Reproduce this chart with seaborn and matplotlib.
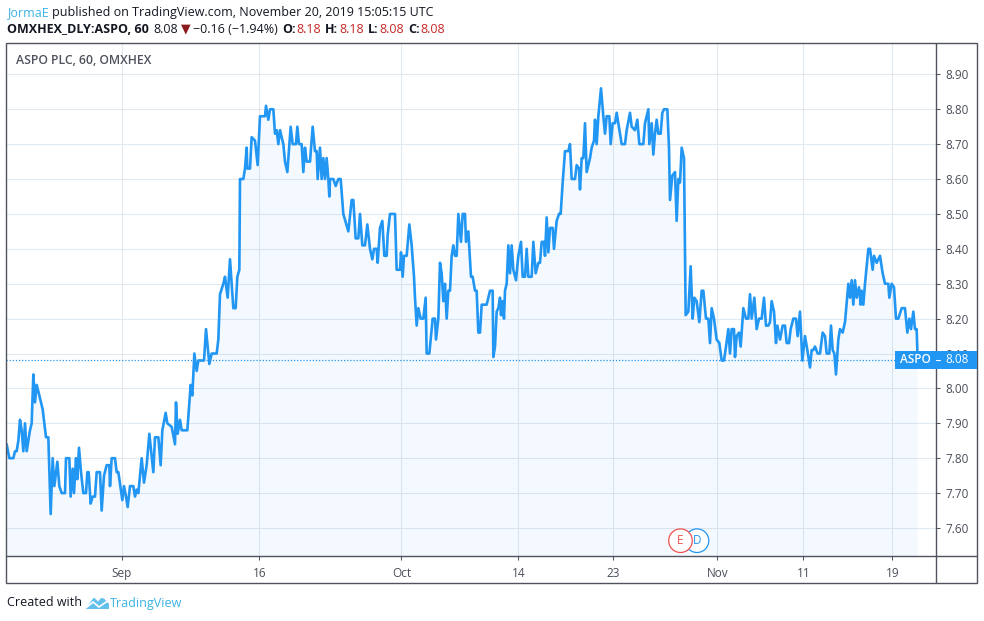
import numpy as np
import pandas as pd
import matplotlib
matplotlib.use("Agg")
import matplotlib.pyplot as plt
import seaborn as sns
from matplotlib.patches import Rectangle, Circle, Polygon
from matplotlib.lines import Line2D

# ---------------- data (hourly bars, time step index) ----------------
bar_t = [
    -1, 7, 19, 24, 29, 34, 39, 44, 49, 54, 59, 64, 69, 74, 79, 84, 89, 97, 107, 117,
    124, 131, 137, 142, 151, 157, 164, 174, 177, 187, 191, 197, 201, 207, 211, 216, 222, 229, 237, 241,
    245, 251, 257, 264, 269, 279, 284, 291, 299, 307, 309, 314, 324, 329, 334, 346, 351, 357, 362, 369,
    379, 384, 389, 394, 404, 411, 419, 427, 439, 444, 454, 461, 466, 476, 481, 494, 504, 507, 512, 519,
    524, 541, 551, 556, 562, 569, 574, 591, 597, 607, 614, 629, 634,
    639, 649, 654, 662, 669, 674, 679, 686, 691, 697, 699, 709, 714, 719, 721, 729, 734, 744, 752, 759,
    774, 777, 784, 789, 799, 804, 809, 814, 819, 829, 834, 841, 847, 851, 857, 867, 871, 876, 884, 889,
    894, 899, 909, 917, 924, 929, 932, 939, 944, 949, 954, 959, 964, 967, 969, 979, 986, 994, 1001, 1009,
    1024, 1034, 1039, 1046, 1054, 1059, 1066, 1074, 1081, 1089, 1096, 1101, 1109, 1112, 1119, 1126, 1132, 1139, 1142, 1149,
    1164,
    1169, 1179, 1182, 1187, 1191, 1199, 1207, 1214, 1221, 1224, 1229, 1234, 1241, 1249, 1256, 1259, 1267, 1277, 1284, 1287,
    1294, 1299, 1304, 1309, 1314, 1319, 1324, 1329, 1334, 1339, 1344, 1349, 1354, 1362, 1367, 1374, 1377, 1384, 1392, 1397,
    1404, 1409, 1414, 1419, 1424, 1439, 1449, 1457, 1459, 1464, 1469, 1474, 1479, 1482, 1487, 1491, 1494, 1499, 1504, 1509,
    1514, 1519, 1527, 1534, 1542, 1547, 1554, 1559, 1564, 1574, 1579, 1586, 1594, 1599, 1604, 1611, 1614, 1619, 1624, 1629,
    1637, 1641, 1649, 1656, 1661, 1667, 1674, 1684, 1689, 1694, 1704, 1709, 1716, 1719, 1724, 1729, 1734, 1739, 1749, 1754,
    1761, 1764, 1769, 1774, 1782, 1789, 1794, 1799, 1807, 1811, 1817, 1824, 1829, 1834, 1844, 1854, 1859, 1869, 1874, 1884,
    1891, 1897,
    1909, 1914, 1924, 1927, 1934, 1939, 1944, 1949, 1954, 1961, 1966, 1971, 1981, 1986, 1989, 1996, 2004, 2009, 2014, 2019,
    2024, 2031, 2036, 2044, 2051, 2057, 2062, 2069, 2077, 2084, 2089, 2097, 2104, 2109, 2114, 2121, 2129, 2137, 2144, 2151,
    2157, 2164, 2169, 2174, 2181, 2184, 2189, 2196, 2201, 2209, 2217, 2224, 2229, 2234, 2242, 2249, 2256, 2264, 2271, 2277,
    2284, 2289, 2294, 2301, 2307, 2311, 2319, 2327, 2334, 2339, 2346, 2351, 2359, 2367, 2372, 2379, 2386, 2394, 2401, 2409,
    2414, 2419, 2424, 2432, 2439, 2447, 2454, 2459, 2467, 2472, 2477, 2482, 2487, 2494, 2499, 2507, 2514, 2524, 2529, 2534,
    2539, 2544, 2549, 2556, 2561, 2564, 2569, 2574, 2584, 2589, 2597, 2601, 2609, 2619, 2627, 2634, 2644, 2647, 2654, 2661,
    2667, 2674, 2684, 2694, 2701, 2707, 2712, 2719, 2724, 2729, 2732,
]
close_price = [
    7.84, 7.80, 7.80, 7.82, 7.82, 7.85, 7.91, 7.88, 7.82, 7.90, 7.82, 7.85, 7.88, 7.90, 8.04, 7.96, 8.01, 7.98, 7.94, 7.86,
    7.86, 7.64, 7.80, 7.72, 7.79, 7.72, 7.70, 7.70, 7.80, 7.80, 7.69, 7.77, 7.70, 7.80, 7.74, 7.83, 7.76, 7.70, 7.70, 7.76,
    7.76, 7.67, 7.69, 7.69, 7.76, 7.76, 7.65, 7.75, 7.78, 7.78, 7.72, 7.80, 7.80, 7.76, 7.76, 7.68, 7.72, 7.69, 7.66, 7.72,
    7.72, 7.69, 7.71, 7.70, 7.80, 7.73, 7.78, 7.87, 7.76, 7.86, 7.86, 7.78, 7.88, 7.93, 7.90, 7.89, 7.84, 7.96, 7.87, 7.91,
    7.88, 7.88, 8.01, 7.98, 8.10, 8.05, 8.08, 8.08, 8.17, 8.07, 8.10, 8.10, 8.14,
    8.27, 8.30, 8.32, 8.26, 8.37, 8.30, 8.23, 8.23, 8.32, 8.34, 8.60, 8.60, 8.63, 8.69, 8.63, 8.63, 8.72, 8.71, 8.64, 8.78,
    8.78, 8.81, 8.77, 8.80, 8.80, 8.73, 8.74, 8.70, 8.74, 8.70, 8.65, 8.62, 8.70, 8.75, 8.70, 8.70, 8.75, 8.70, 8.70, 8.62,
    8.69, 8.65, 8.65, 8.75, 8.68, 8.68, 8.60, 8.69, 8.60, 8.66, 8.60, 8.66, 8.60, 8.55, 8.60, 8.60, 8.58, 8.60, 8.60, 8.50,
    8.45, 8.54, 8.54, 8.43, 8.43, 8.50, 8.41, 8.41, 8.47, 8.40, 8.37, 8.40, 8.40, 8.36, 8.46, 8.48, 8.38, 8.38, 8.44, 8.50,
    8.50,
    8.34, 8.34, 8.39, 8.32, 8.38, 8.38, 8.47, 8.41, 8.32, 8.26, 8.18, 8.23, 8.20, 8.20, 8.26, 8.10, 8.10, 8.20, 8.20, 8.14,
    8.20, 8.36, 8.33, 8.25, 8.30, 8.20, 8.28, 8.28, 8.38, 8.41, 8.38, 8.38, 8.50, 8.42, 8.50, 8.50, 8.42, 8.45, 8.32, 8.32,
    8.28, 8.28, 8.16, 8.16, 8.24, 8.24, 8.28, 8.28, 8.09, 8.12, 8.22, 8.23, 8.26, 8.21, 8.25, 8.20, 8.28, 8.30, 8.41, 8.33,
    8.41, 8.34, 8.31, 8.38, 8.42, 8.32, 8.32, 8.40, 8.32, 8.32, 8.42, 8.33, 8.36, 8.36, 8.42, 8.42, 8.38, 8.49, 8.39, 8.46,
    8.46, 8.40, 8.48, 8.50, 8.50, 8.59, 8.68, 8.68, 8.70, 8.60, 8.60, 8.64, 8.63, 8.57, 8.66, 8.66, 8.76, 8.62, 8.66, 8.69,
    8.71, 8.77, 8.70, 8.78, 8.86, 8.78, 8.73, 8.78, 8.78, 8.70, 8.76, 8.76, 8.79, 8.76, 8.70, 8.70, 8.74, 8.79, 8.75, 8.74,
    8.77, 8.70,
    8.70, 8.76, 8.80, 8.70, 8.76, 8.67, 8.73, 8.77, 8.73, 8.73, 8.79, 8.80, 8.80, 8.69, 8.54, 8.61, 8.62, 8.48, 8.60, 8.59,
    8.69, 8.66, 8.21, 8.22, 8.35, 8.20, 8.26, 8.25, 8.19, 8.28, 8.28, 8.20, 8.20, 8.13, 8.23, 8.20, 8.14, 8.13, 8.08, 8.08,
    8.12, 8.17, 8.10, 8.17, 8.17, 8.09, 8.15, 8.16, 8.12, 8.23, 8.20, 8.20, 8.27, 8.20, 8.26, 8.17, 8.20, 8.20, 8.26, 8.18,
    8.18, 8.19, 8.25, 8.22, 8.13, 8.18, 8.14, 8.18, 8.18, 8.13, 8.13, 8.17, 8.20, 8.20, 8.15, 8.22, 8.08, 8.15, 8.11, 8.06,
    8.11, 8.11, 8.12, 8.10, 8.10, 8.16, 8.15, 8.10, 8.10, 8.18, 8.11, 8.10, 8.04, 8.14, 8.17, 8.16, 8.19, 8.30, 8.26, 8.31,
    8.24, 8.31, 8.26, 8.29, 8.24, 8.28, 8.24, 8.30, 8.40, 8.40, 8.34, 8.38, 8.36, 8.38, 8.33, 8.30, 8.30, 8.26, 8.30, 8.29,
    8.20, 8.20, 8.23, 8.23, 8.16, 8.20, 8.17, 8.22, 8.17, 8.17, 8.08,
]
last_price = 8.08
tick_t = [344, 757, 1183, 1534, 1819, 2131, 2389, 2656]
tick_labels = ["Sep", "16", "Oct", "14", "23", "Nov", "11", "19"]
price_ticks = [7.60, 7.70, 7.80, 7.90, 8.00, 8.10, 8.20, 8.30, 8.40, 8.50, 8.60, 8.70, 8.80, 8.90]

# ---------------- style ----------------
W, H = 984, 621
LINE = "#2196f3"
FRAME = "#50535e"
GRID = "#e1e9f0"
TXT = "#4a4e58"
DARK = "#131722"
RED = "#c62828"
LIGHTBLUE = "#3bb3e4"

sns.set_theme(style="white")
plt.rcParams["font.family"] = ["Open Sans", "DejaVu Sans"]

fig = plt.figure(figsize=(W / 100, H / 100), dpi=100)
fig.patch.set_facecolor("white")


def fx(x):
    return x / W


def fy(y):
    return 1 - y / H


L, R, T, B = 6.3, 936.3, 43.3, 555.7
XB, RB = 583.3, 977.3
ax = fig.add_axes([fx(L), fy(B), (R - L) / W, (B - T) / H])
ax.set_facecolor("white")

df = pd.DataFrame({"t": bar_t, "price": close_price})
ax.fill_between(df["t"], df["price"], 7.0, color=LINE, alpha=0.05, lw=0, zorder=1)
sns.lineplot(data=df, x="t", y="price", ax=ax, color=LINE, lw=1.9,
             estimator=None, sort=False, zorder=3)
ax.axhline(last_price, color=LINE, lw=0.9, ls=(0, (1, 1.5)), zorder=2)

ax.set_xlim(-2.1, 2787.9)
ax.set_ylim(7.5206, 8.989)
ax.set_xticks(tick_t, tick_labels)
ax.set_yticks(price_ticks, [f"{v:.2f}" for v in price_ticks])
ax.yaxis.tick_right()
ax.tick_params(axis="x", length=2.9, width=0.75, color=FRAME, pad=5,
               labelsize=8.5, labelcolor=TXT, bottom=True)
ax.tick_params(axis="y", length=2.9, width=0.75, color=FRAME, pad=3.6,
               labelsize=8.5, labelcolor=TXT, right=True)
ax.grid(True, color=GRID, lw=0.75)
ax.set_axisbelow(True)
for s in ax.spines.values():
    s.set_visible(False)
ax.set_xlabel("")
ax.set_ylabel("")

# frame
fig.add_artist(Rectangle((fx(L), fy(XB)), (RB - L) / W, (XB - T) / H, fill=False,
                         ec=FRAME, lw=1.0, transform=fig.transFigure, zorder=5))
fig.add_artist(Line2D([fx(R), fx(R)], [fy(T), fy(XB)], color=FRAME, lw=1.0,
                      transform=fig.transFigure, zorder=5))
fig.add_artist(Line2D([fx(L), fx(RB)], [fy(B), fy(B)], color=FRAME, lw=1.0,
                      transform=fig.transFigure, zorder=5))

# last price labels
fig.add_artist(Rectangle((fx(895), fy(368.7)), (R - 895) / W, 18 / H, fc=LINE, ec="none",
                         transform=fig.transFigure, zorder=6))
fig.text(fx(915.2), fy(359.8), "ASPO", color="white", fontsize=8.5, fontweight="semibold",
         ha="center", va="center", zorder=7)
fig.add_artist(Rectangle((fx(R), fy(368.7)), (RB - R) / W, 18 / H, fc=LINE, ec="none",
                         transform=fig.transFigure, zorder=6))
fig.add_artist(Line2D([fx(R), fx(R + 4)], [fy(359.8), fy(359.8)], color="white", lw=0.8,
                      transform=fig.transFigure, zorder=7))
fig.text(fx(945), fy(359.8), f"{last_price:.2f}", color="white", fontsize=8.5,
         ha="left", va="center", zorder=7)

# E / D event markers
for cx, lbl, col in [(697.0, "D", LINE), (680.5, "E", "#ef5350")]:
    fig.add_artist(Circle((cx / 100, (H - 540.7) / 100), 0.118, fc="white", ec=col, lw=0.9,
                          transform=fig.dpi_scale_trans, zorder=8))
    fig.text(cx / 100, (H - 540.7) / 100, lbl, color=col, fontsize=8.5, ha="center",
             va="center", transform=fig.dpi_scale_trans, zorder=9)

# chart title
fig.text(fx(16), fy(61), "ASPO PLC, 60, OMXHEX", color=FRAME, fontsize=8.8,
         fontweight="semibold", ha="left", va="center")

renderer = fig.canvas.get_renderer()


def seq(x, y, parts, size):
    for s, color, weight, gap in parts:
        x += gap
        tx = fig.text(x / 100, (H - y) / 100, s, transform=fig.dpi_scale_trans, color=color,
                      fontweight=weight, fontsize=size, va="center", ha="left")
        bb = tx.get_window_extent(renderer)
        x = bb.x1
    return x


seq(7, 12.7, [("JormaE", LIGHTBLUE, "normal", 0),
              ("published on TradingView.com, November 20, 2019 15:05:15 UTC", DARK, "normal", 3.5)], 9)
seq(7, 29.3, [("OMXHEX_DLY:ASPO, 60", DARK, "bold", 0),
              ("8.08", DARK, "normal", 5),
              ("▼", "#8b1a1a", "normal", 2),
              ("−0.16 (−1.94%)", DARK, "normal", 3),
              ("O:", DARK, "bold", 4), ("8.18", RED, "normal", 1),
              ("H:", DARK, "bold", 4), ("8.18", RED, "normal", 1),
              ("L:", DARK, "bold", 4), ("8.08", RED, "normal", 1),
              ("C:", DARK, "bold", 4), ("8.08", RED, "normal", 1)], 9)

# footer
x_end = seq(7, 603, [("Created with", DARK, "normal", 0)], 9)
lx = x_end + 4
logo = [(lx, 609), (lx + 5, 601), (lx + 8, 597.5), (lx + 12, 601.5), (lx + 15, 598),
        (lx + 18, 598.5), (lx + 23, 604), (lx + 23, 609)]
fig.add_artist(Polygon([(px / 100, (H - py) / 100) for px, py in logo], closed=True,
                       fc="#62c0ea", ec="none", transform=fig.dpi_scale_trans))
fig.add_artist(Line2D([(lx + 1) / 100, (lx + 7) / 100, (lx + 13) / 100, (lx + 23) / 100],
                      [(H - 607) / 100, (H - 602) / 100, (H - 607) / 100, (H - 600) / 100],
                      color="white", lw=1.2, transform=fig.dpi_scale_trans))
seq(lx + 24, 603, [("TradingView", LIGHTBLUE, "normal", 0)], 9)

fig.savefig("out.png", dpi=100, facecolor="white")
